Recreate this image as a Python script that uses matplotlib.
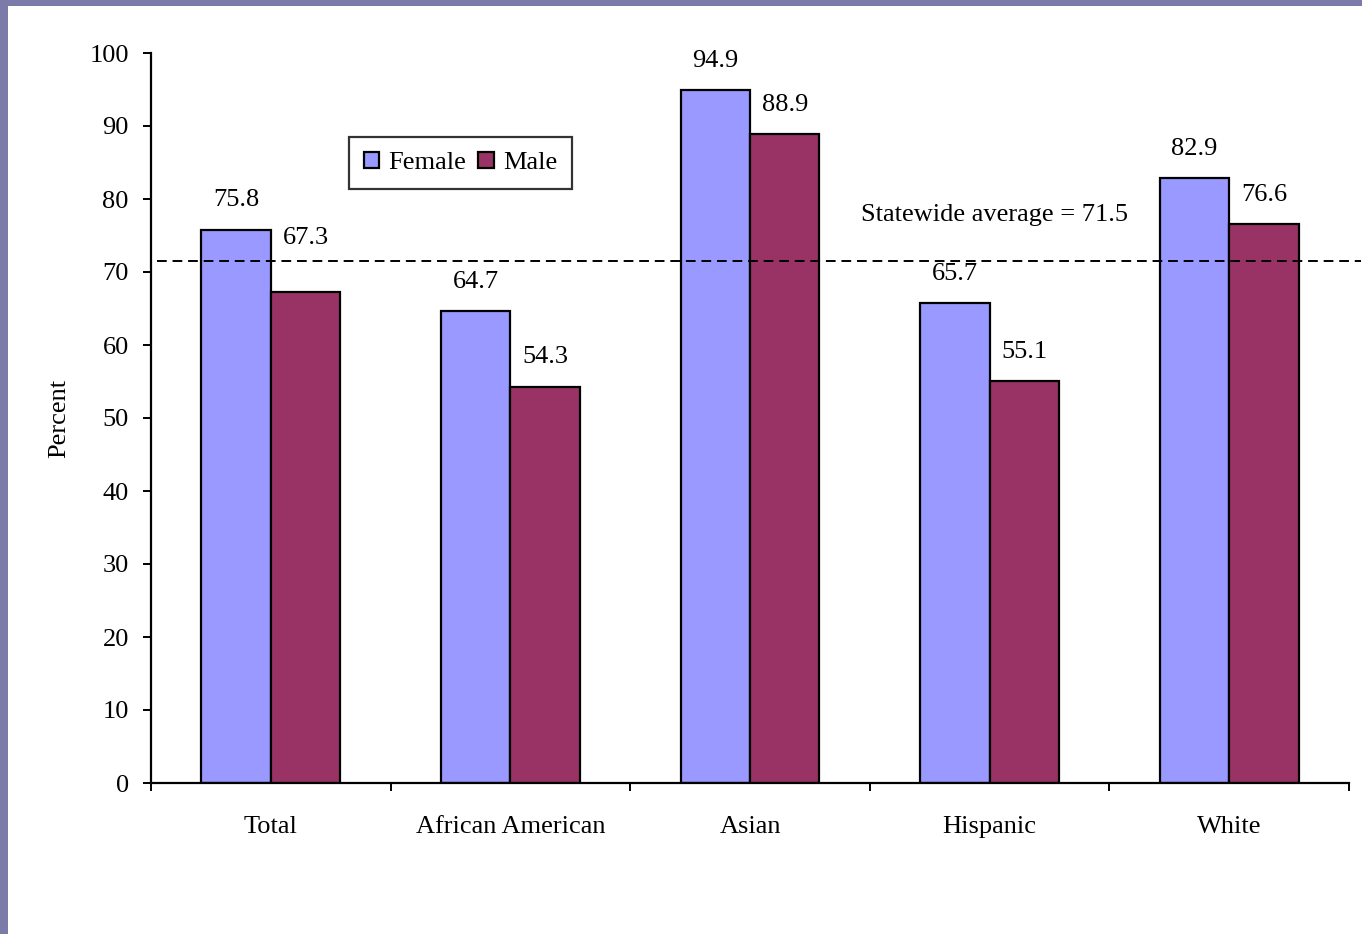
import matplotlib
matplotlib.use("Agg")
import matplotlib.pyplot as plt
import numpy as np
from matplotlib.patches import Rectangle

categories = ["Total", "African American", "Asian", "Hispanic", "White"]
female = [75.8, 64.7, 94.9, 65.7, 82.9]
male = [67.3, 54.3, 88.9, 55.1, 76.6]
statewide_avg = 71.5
yticks = [0, 10, 20, 30, 40, 50, 60, 70, 80, 90, 100]

plt.rcParams['font.family'] = ['Liberation Serif', 'DejaVu Serif']
FS = 19

fig = plt.figure(figsize=(13.62, 9.34), dpi=100)
fig.patch.set_facecolor('white')
# purple frame on top and left
frame_col = '#7B7AA9'
fig.patches.append(Rectangle((0, 1 - 6/934), 1, 6/934, transform=fig.transFigure,
                             facecolor=frame_col, edgecolor='none', zorder=0))
fig.patches.append(Rectangle((0, 0), 8/1362, 1, transform=fig.transFigure,
                             facecolor=frame_col, edgecolor='none', zorder=0))

ax = fig.add_axes([151/1362, (934-783)/934, (1349-151)/1362, (783-53)/934])
x = np.arange(len(categories))
w = 0.29
bf = ax.bar(x - w/2, female, w, color='#9999FF', edgecolor='black', linewidth=1.6, label='Female', zorder=2)
bm = ax.bar(x + w/2, male, w, color='#993366', edgecolor='black', linewidth=1.6, label='Male', zorder=2)

for i, v in enumerate(female):
    ax.annotate(f"{v:.1f}", (x[i] - w/2, v), xytext=(0, 21), textcoords='offset points',
                ha='center', va='center', fontsize=FS)
for i, v in enumerate(male):
    off = 39 if i == 0 else 21
    ax.annotate(f"{v:.1f}", (x[i] + w/2, v), xytext=(0, off), textcoords='offset points',
                ha='center', va='center', fontsize=FS)

ax.plot([-0.475, 4.55], [statewide_avg, statewide_avg], color='black', linestyle=(0, (5, 3)),
        linewidth=1.4, zorder=3, clip_on=False)
ax.text(3.02, 77.8, f"Statewide average = {statewide_avg}", ha='center', va='center', fontsize=FS)

ax.set_xlim(-0.5, len(categories) - 0.5)
ax.set_ylim(0, 100)
ax.set_yticks(yticks)
ax.set_yticklabels([str(t) for t in yticks], fontsize=FS)
ax.set_xticks(x)
ax.set_xticklabels(categories, fontsize=FS)
ax.set_xticks(np.arange(len(categories) + 1) - 0.5, minor=True)
ax.tick_params(axis='x', which='major', length=0, pad=24)
ax.tick_params(axis='x', which='minor', length=6, width=1.4, direction='out')
ax.tick_params(axis='y', length=6, width=1.4, direction='out', pad=10)
for s in ['top', 'right']:
    ax.spines[s].set_visible(False)
for s in ['left', 'bottom']:
    ax.spines[s].set_linewidth(1.6)
ax.set_ylabel("Percent", fontsize=FS, labelpad=14)

leg = ax.legend(loc='upper left', bbox_to_anchor=((349-151)/1198, (783-137)/730), ncol=2,
                fontsize=FS, frameon=True, fancybox=False, edgecolor='black',
                handlelength=0.6, handleheight=0.6, handletextpad=0.35, columnspacing=0.45,
                borderpad=0.55, borderaxespad=0)
leg.get_frame().set_linewidth(1.6)

fig.savefig("out.png", dpi=100, facecolor='white')
